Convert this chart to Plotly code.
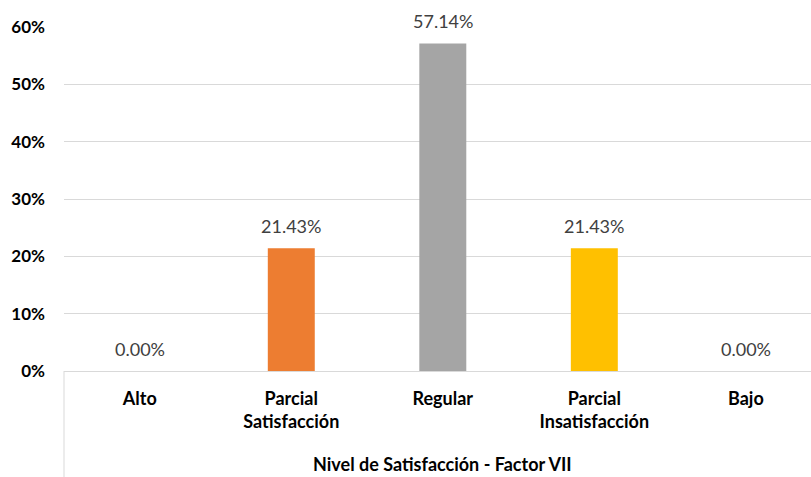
import plotly.graph_objects as go

categories = ["Alto", "Parcial<br>Satisfacción", "Regular", "Parcial<br>Insatisfacción", "Bajo"]
values = [0.0, 21.43, 57.14, 21.43, 0.0]
bar_colors = ["#4472C4", "#ED7D31", "#A5A5A5", "#FFC000", "#5B9BD5"]
y_ticks = [0, 10, 20, 30, 40, 50, 60]
y_tick_labels = [f"{v}%" for v in y_ticks]
x_title = "Nivel de Satisfacción - Factor VII"

FONT = "Lato, 'Open Sans', sans-serif"
positions = list(range(len(categories)))

fig = go.Figure(
    go.Bar(
        x=positions,
        y=values,
        marker=dict(color=bar_colors, line=dict(width=0)),
        width=0.31,
        cliponaxis=False,
        hoverinfo="skip",
    )
)

# value labels above each bar
value_labels = [
    dict(
        text=f"{v:.2f}%",
        x=p,
        y=v,
        xref="x",
        yref="y",
        xanchor="center",
        yanchor="bottom",
        yshift=9,
        showarrow=False,
        font=dict(family=FONT, size=18, color="#404040"),
    )
    for p, v in zip(positions, values)
]

fig.update_layout(
    width=811,
    height=477,
    margin=dict(l=64, r=0, t=27, b=106),
    paper_bgcolor="white",
    plot_bgcolor="white",
    showlegend=False,
    bargap=0.69,
    xaxis=dict(
        range=[-0.5, 4.43],
        tickmode="array",
        tickvals=positions,
        ticktext=categories,
        tickfont=dict(family=FONT, size=18, color="#000000", weight="bold"),
        showgrid=False,
        zeroline=False,
        showline=False,
        ticks="",
        ticklabelstandoff=15,
        fixedrange=True,
    ),
    yaxis=dict(
        range=[0, 60],
        tickmode="array",
        tickvals=y_ticks,
        ticktext=y_tick_labels,
        tickfont=dict(family=FONT, size=17, color="#000000", weight="bold"),
        showgrid=True,
        gridcolor="#D9D9D9",
        gridwidth=1,
        zeroline=True,
        zerolinecolor="#D9D9D9",
        zerolinewidth=1,
        showline=False,
        ticks="",
        ticklabelstandoff=18,
        fixedrange=True,
    ),
    annotations=value_labels
    + [
        dict(
            text=x_title,
            x=2.0,
            xref="x",
            y=-0.27,
            yref="paper",
            xanchor="center",
            yanchor="middle",
            showarrow=False,
            font=dict(family=FONT, size=18, color="#000000", weight="bold"),
        )
    ],
    shapes=[
        # left border of the category axis area, running below the plot
        dict(
            type="line",
            xref="paper",
            yref="paper",
            x0=0,
            x1=0,
            y0=0,
            y1=-0.31,
            line=dict(color="#D9D9D9", width=1),
        )
    ],
)

fig.write_html("out.html")
